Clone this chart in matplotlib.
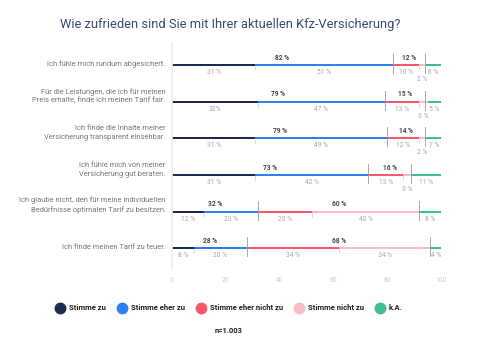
import matplotlib.pyplot as plt
from matplotlib.lines import Line2D

plt.rcParams['font.family'] = ['Roboto', 'DejaVu Sans']

categories = [
    "Ich fühle mich rundum abgesichert.",
    "Für die Leistungen, die ich für meinen\nPreis erhalte, finde ich meinen Tarif fair.",
    "Ich finde die Inhalte meiner\nVersicherung transparent einsehbar.",
    "Ich fühle mich von meiner\nVersicherung gut beraten.",
    "Ich glaube nicht, den für meine individuellen\nBedürfnisse optimalen Tarif zu besitzen.",
    "Ich finde meinen Tarif zu teuer.",
]
stimme_zu = [31, 32, 31, 31, 12, 8]
eher_zu = [51, 47, 49, 42, 20, 20]
eher_nicht_zu = [10, 13, 12, 13, 20, 34]
nicht_zu = [2, 3, 2, 3, 40, 34]
k_a = [6, 5, 7, 11, 8, 4]
agree_total = [82, 79, 79, 73, 32, 28]
disagree_total = [12, 15, 14, 16, 60, 68]
bottom_fmt = [
    ["31 %", "51 %", "10 %", "2 %", "6 %"],
    ["32%", "47 %", "13 %", "3 %", "5 %"],
    ["31 %", "49 %", "12 %", "2 %", "7 %"],
    ["31 %", "42 %", "13 %", "3 %", "11 %"],
    ["12 %", "20 %", "20 %", "40 %", "8 %"],
    ["8 %", "20 %", "34 %", "34 %", "4 %"],
]

series_names = ["Stimme zu", "Stimme eher zu", "Stimme eher nicht zu", "Stimme nicht zu", "k.A."]
colors = ["#1c2b52", "#2f80ee", "#f5596b", "#fcbcc5", "#3dbf92"]

fig = plt.figure(figsize=(5, 3.54), dpi=100)
ax = fig.add_axes([0.344, 0.237, 0.538, 0.6412])

series = [stimme_zu, eher_zu, eher_nicht_zu, nicht_zu, k_a]
for i in range(len(categories)):
    left = 0
    vals = [s[i] for s in series]
    bounds = []
    for j, v in enumerate(vals):
        ax.barh(i, v, left=left, height=0.055, color=colors[j], linewidth=0)
        dy = 0.40 if v <= 3 else 0.21
        ax.text(left + v / 2, i + dy, bottom_fmt[i][j], ha="center", va="center",
                fontsize=4.8, color="#a8a8a8")
        bounds.append(left)
        left += v
    # inner ticks
    for b in (bounds[1], bounds[3]):
        ax.plot([b, b], [i + 0.03, i + 0.14], color="#cccccc", lw=0.5)
    # group lines
    a_end = stimme_zu[i] + eher_zu[i]
    d_end = a_end + disagree_total[i]
    for b in (a_end, d_end):
        ax.plot([b, b], [i - 0.3, i + 0.22], color="#9a9a9a", lw=0.6)
    ax.text(a_end / 2, i - 0.2, f"{agree_total[i]} %", ha="center", va="center",
            fontsize=4.8, color="#444444", fontweight="semibold")
    ax.text((a_end + d_end) / 2, i - 0.2, f"{disagree_total[i]} %", ha="center",
            va="center", fontsize=4.8, color="#444444", fontweight="semibold")
    ax.text(-2.4, i + 0.08, categories[i], ha="right", va="bottom", fontsize=5.4,
            color="#777777", linespacing=1.4)

ax.set_xlim(0, 100)
ax.set_ylim(5.6, -0.6)
ax.set_yticks([])
ax.set_xticks([0, 20, 40, 60, 80, 100])
ax.tick_params(axis="x", length=0, pad=5, labelsize=4.8, labelcolor="#cfcfcf")
for s in ["top", "right", "bottom"]:
    ax.spines[s].set_visible(False)
ax.spines["left"].set_color("#eeeeee")
ax.spines["left"].set_linewidth(1.2)

fig.text(0.12, 0.93, "Wie zufrieden sind Sie mit Ihrer aktuellen Kfz-Versicherung?",
         fontsize=9.3, color="#3b4a6e", va="center")

handles = [Line2D([], [], marker="o", linestyle="none", markersize=7.5,
                  markerfacecolor=c, markeredgecolor=c) for c in colors]
leg = fig.legend(handles, series_names, loc="center", bbox_to_anchor=(0.458, 0.13),
                 ncol=5, frameon=False, fontsize=5.6, handletextpad=0.5,
                 columnspacing=1.4, handlelength=1.3)
for t in leg.get_texts():
    t.set_fontweight("bold")
    t.set_color("#222222")

fig.text(0.458, 0.065, "n=1.003", ha="center", va="center", fontsize=5.4,
         fontweight="bold", color="#222222")

fig.savefig("out.png", dpi=100, facecolor="white")
